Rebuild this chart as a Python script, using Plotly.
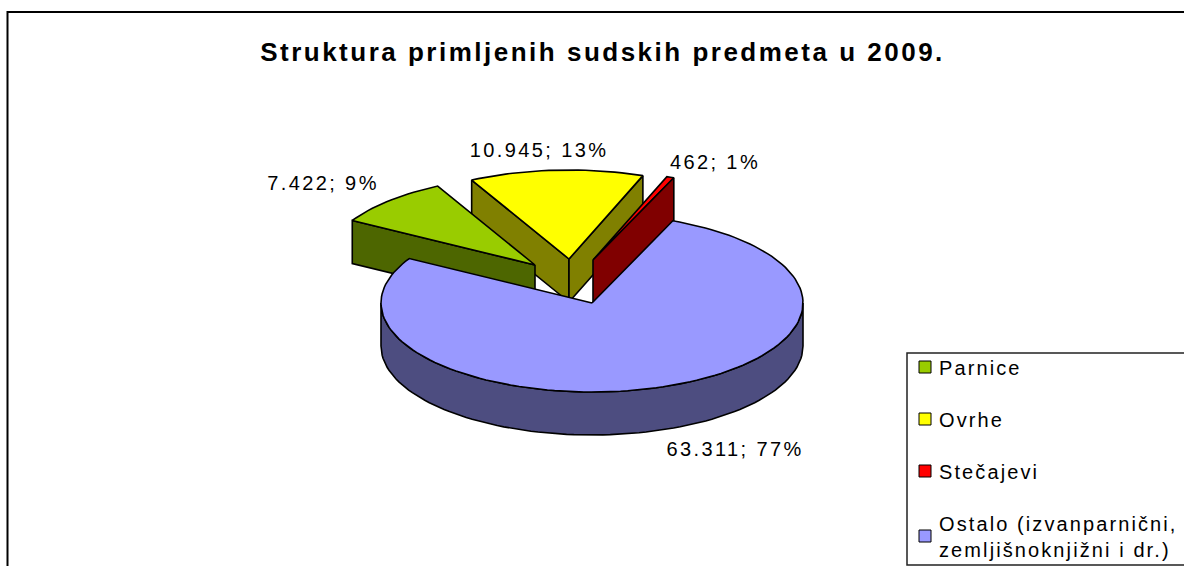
import math
import plotly.graph_objects as go

categories = ["Parnice", "Ovrhe", "Stečajevi", "Ostalo (izvanparnični,<br>zemljišnoknjižni i dr.)"]
values = [7422, 10945, 462, 63311]
value_labels = ["7.422", "10.945", "462", "63.311"]

top_colors = ["#99CC00", "#FFFF00", "#FF0000", "#9999FF"]
side_colors = ["#4D6600", "#808000", "#800000", "#4D4D80"]

# drawing geometry of the 3D pie (page pixels)
CX, CY, RX, RY, DEPTH = 592, 303, 211, 89, 43
START = 300.0
EXPLODE = [(-57, -38), (-23, -44), (1, -43), (0, 0)]
LABEL_POS = [(323, 185), (539, 152), (715, 164), (735, 451)]

total = sum(values)
angles = []
a = START
for v in values:
    b = a + v / total * 360
    angles.append((a, b))
    a = b


def pt(cx, cy, deg):
    r = math.radians(deg)
    return cx + RX * math.sin(r), cy - RY * math.cos(r)


def arc(cx, cy, a0, a1, step=2.0):
    n = max(2, int(abs(a1 - a0) / step) + 1)
    return [pt(cx, cy, a0 + (a1 - a0) * i / n) for i in range(n + 1)]


fig = go.Figure()


def poly(points, color):
    xs = [p[0] for p in points] + [points[0][0]]
    ys = [p[1] for p in points] + [points[0][1]]
    fig.add_trace(go.Scatter(x=xs, y=ys, mode="lines", fill="toself", fillcolor=color,
                             line=dict(color="black", width=1.6), showlegend=False,
                             hoverinfo="skip"))


def wedge_walls(i, which):
    dx, dy = EXPLODE[i]
    cx, cy = CX + dx, CY + dy
    for k in which:
        p = pt(cx, cy, angles[i][k])
        poly([(cx, cy), p, (p[0], p[1] + DEPTH), (cx, cy + DEPTH)], side_colors[i])


def wedge_top(i):
    dx, dy = EXPLODE[i]
    cx, cy = CX + dx, CY + dy
    a0, a1 = angles[i]
    poly([(cx, cy)] + arc(cx, cy, a0, a1), top_colors[i])


# back slices, far to near
wedge_walls(1, (0, 1))
wedge_top(1)
wedge_top(2)
wedge_walls(2, (1,))
wedge_walls(0, (0,))
wedge_top(0)

# large front slice
a0, a1 = angles[3]
front = arc(CX, CY, 90, 270)
poly(front + [(x, y + DEPTH) for x, y in reversed(front)], side_colors[3])
wedge_top(3)

# value labels
for i in range(4):
    pct = round(values[i] / total * 100)
    fig.add_trace(go.Scatter(x=[LABEL_POS[i][0]], y=[LABEL_POS[i][1]], mode="text",
                             text=[f"{value_labels[i]}; {pct}%"], textposition="middle center",
                             textfont=dict(family="Liberation Sans", size=20, color="black"),
                             showlegend=False, hoverinfo="skip"))

# legend entries
for i in range(4):
    fig.add_trace(go.Scatter(x=[None], y=[None], mode="markers", name=categories[i],
                             legendgroup=str(i),
                             marker=dict(symbol="square", size=12, color=top_colors[i],
                                         line=dict(color="black", width=1))))

fig.update_layout(
    width=1184, height=566,
    margin=dict(l=0, r=0, t=0, b=0, autoexpand=False),
    paper_bgcolor="white", plot_bgcolor="white",
    xaxis=dict(range=[0, 1184], visible=False, fixedrange=True),
    yaxis=dict(range=[566, 0], visible=False, fixedrange=True),
    font=dict(family="Liberation Sans", color="black"),
    title=dict(text="<b>Struktura primljenih sudskih predmeta u 2009.</b>",
               x=602.5 / 1184, xanchor="center", y=1 - 52 / 566, yanchor="middle",
               font=dict(family="Liberation Sans", size=26, color="black")),
    legend=dict(x=899 / 1184, xanchor="left", y=1 - 347.5 / 566, yanchor="top",
                bgcolor="rgba(0,0,0,0)", borderwidth=0,
                font=dict(family="Liberation Sans", size=20, color="black"),
                tracegroupgap=23, itemwidth=30),
    shapes=[
        dict(type="rect", xref="paper", yref="paper", x0=7.5 / 1184, x1=1.01, y0=-0.01, y1=1 - 12 / 566,
             line=dict(color="black", width=2), fillcolor="rgba(0,0,0,0)", layer="below"),
        dict(type="rect", xref="paper", yref="paper", x0=907 / 1184, x1=1.01, y0=1 - 565 / 566, y1=1 - 353 / 566,
             line=dict(color="#222222", width=1.5), fillcolor="white", layer="below"),
    ],
)

post = """
document.body.style.margin = '0';
var spacing = [['.gtitle', 2.5], ['.legendtext', 2.1], ['.textpoint text', 2.4]];
spacing.forEach(function (s) {
  document.querySelectorAll(s[0]).forEach(function (t) { t.setAttribute('letter-spacing', s[1]); });
});
document.querySelectorAll('.legendsymbols').forEach(function (g) { g.setAttribute('transform', 'translate(6,0)'); });
document.querySelectorAll('.legend .scrollbox').forEach(function (g) { g.removeAttribute('clip-path'); });
document.querySelectorAll('.legend').forEach(function (g) { g.style.overflow = 'visible'; g.removeAttribute('clip-path'); });
"""
fig.write_html("out.html", post_script=post, config=dict(displayModeBar=False))
